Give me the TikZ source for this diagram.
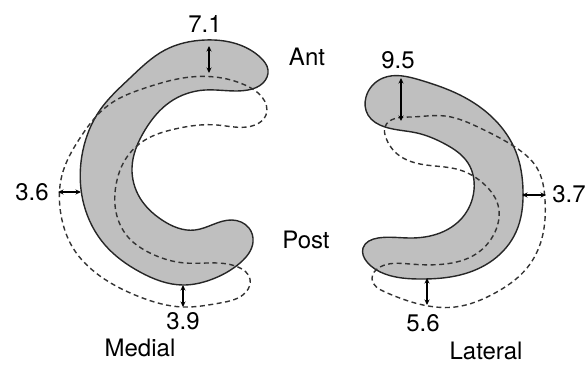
\documentclass[tikz,border=0pt]{standalone}
\usepackage{fontspec}
\setmainfont{TeX Gyre Heros}
\usetikzlibrary{arrows.meta,hobby}
\tikzset{
  menfill/.style={fill=black!25, draw=black!85, line width=1.4pt, use Hobby shortcut, closed=true},
  mendash/.style={draw=black!80, line width=1.4pt, dash pattern=on 5pt off 3.5pt, use Hobby shortcut, closed=true},
  dim/.style={line width=1.1pt, {Stealth[length=5.5pt,width=5pt]}-{Stealth[length=5.5pt,width=5pt]}},
  lbl/.style={inner sep=0pt, font=\fontsize{24}{28}\selectfont}
}
\begin{document}
\begin{tikzpicture}[x=1pt,y=-1pt]
\useasboundingbox (0,0) rectangle (585,365);
% ---- Medial meniscus ----
\path[menfill] (205,40) .. (240,45) .. (261,58) .. (268,70) .. (263,83) .. (248,90) .. (205,90)
 .. (170,102) .. (145,130) .. (132,168) .. (140,198) .. (162,220) .. (195,230)
 .. (232,220) .. (249,228) .. (253,242) .. (240,263) .. (210,280) .. (183,285)
 .. (140,272) .. (105,245) .. (84,205) .. (83,150) .. (100,110) .. (130,78) .. (165,50);
\path[mendash] (183,78) .. (215,77) .. (245,85) .. (262,97) .. (266,115) .. (255,125)
 .. (217,125) .. (175,129) .. (145,140) .. (125,160) .. (116,185) .. (116,212)
 .. (128,237) .. (150,253) .. (185,263) .. (238,267) .. (250,279) .. (246,292)
 .. (220,303) .. (183,307) .. (140,297) .. (100,276) .. (73,248) .. (61,215)
 .. (62,175) .. (80,138) .. (110,104) .. (145,88);
% ---- Lateral meniscus ----
\path[menfill] (383,78) .. (420,80) .. (460,95) .. (495,120) .. (516,152) .. (523,190)
 .. (516,232) .. (493,260) .. (460,275) .. (420,279) .. (385,274) .. (367,262)
 .. (363,248) .. (378,238) .. (410,238) .. (440,233) .. (462,218) .. (474,190)
 .. (468,163) .. (445,144) .. (417,133) .. (385,127) .. (368,115) .. (366,97);
\path[mendash] (385,127) .. (410,117) .. (445,116) .. (480,128) .. (515,147) .. (537,168)
 .. (545,200) .. (542,238) .. (527,268) .. (495,293) .. (455,307) .. (415,303)
 .. (385,292) .. (372,279) .. (380,267) .. (410,264) .. (445,264) .. (476,254)
 .. (495,232) .. (498,205) .. (485,185) .. (460,170) .. (420,164) .. (395,152) .. (386,138);
% ---- dimension coordinates ----
\coordinate (a1) at (209,46); \coordinate (a2) at (209,73);
\coordinate (b1) at (58,192); \coordinate (b2) at (81,192);
\coordinate (c1) at (183,285); \coordinate (c2) at (183,307);
\coordinate (d1) at (401,78); \coordinate (d2) at (401,121);
\coordinate (e1) at (522,195); \coordinate (e2) at (546,195);
\coordinate (f1) at (427,278); \coordinate (f2) at (427,305);
\draw[dim] (a1) -- (a2);
\draw[dim] (b1) -- (b2);
\draw[dim] (c1) -- (c2);
\draw[dim] (d1) -- (d2);
\draw[dim] (e1) -- (e2);
\draw[dim] (f1) -- (f2);
% ---- labels ----
\node[lbl] (t71) at (205,24) {7.1};
\node[lbl] (t36) at (32,192) {3.6};
\node[lbl] (t39) at (183,321) {3.9};
\node[lbl] (t95) at (398,60) {9.5};
\node[lbl] (t37) at (569,194) {3.7};
\node[lbl] (t56) at (423,323) {5.6};
\node[lbl] (ant) at (307,57) {Ant};
\node[lbl] (post) at (306,240) {Post};
\node[lbl] (med) at (140,348) {Medial};
\node[lbl] (lat) at (486,351) {Lateral};
\end{tikzpicture}
\end{document}
